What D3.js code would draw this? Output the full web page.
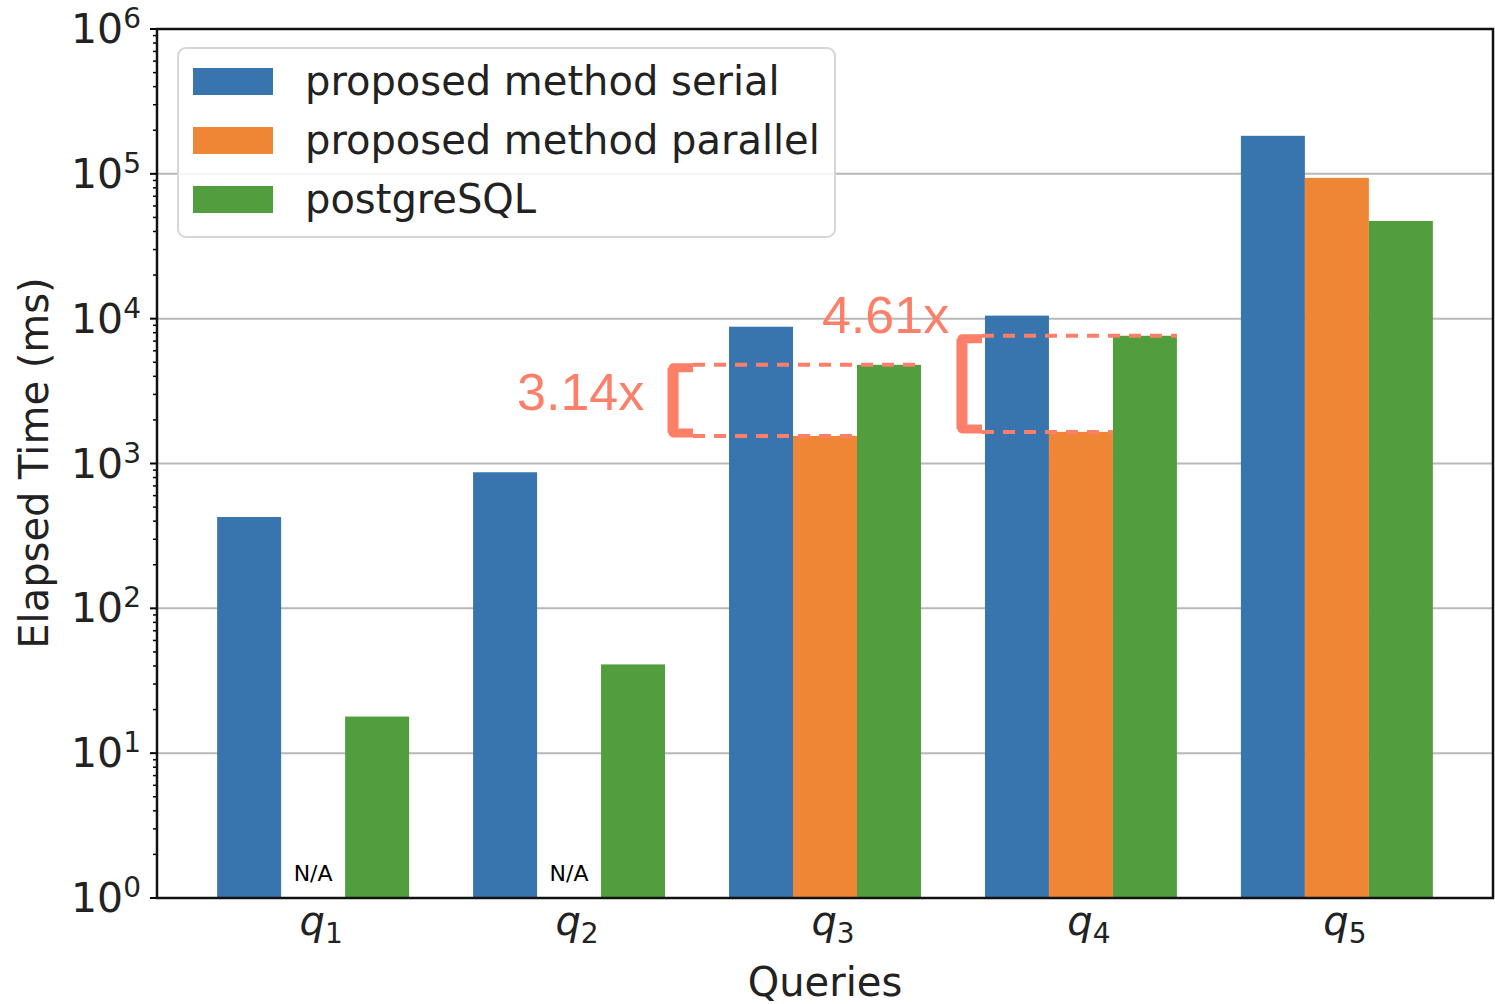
<html>
<head>
<script src="https://d3js.org/d3.v7.min.js"></script>
<style>
  body { margin: 0; background: #fff; }
  svg { display: block; font-family: "DejaVu Sans"; }
</style>
</head>
<body>
<div id="chart"></div>
<script>
// data
var queries = ["q1", "q2", "q3", "q4", "q5"];
var seriesNames = ["proposed method serial", "proposed method parallel", "postgreSQL"];
var serial   = [427, 870, 8800, 10500, 183000];
var parallel = [null, null, 1550, 1653, 93800];
var postgres = [17.9, 41, 4800, 7620, 47300];
var yTicks = [1, 10, 100, 1000, 10000, 100000, 1000000];
var speedups = [
  { q: "q3", top: 2, bottom: 1, label: "3.14x" },
  { q: "q4", top: 2, bottom: 1, label: "4.61x" }
];

var colors = ["#3875ae", "#ef8636", "#529e3e"];
var salmon = "#fc7f6a";
var values = [serial, parallel, postgres];

var width = 1495, height = 1004;
var plotL = 157, plotR = 1493, plotT = 29, plotB = 898;

var svg = d3.select("#chart").append("svg")
  .attr("width", width)
  .attr("height", height);

var x = d3.scaleBand().domain(queries).range([plotL, plotR]).paddingOuter(0.11).paddingInner(0);
var inner = d3.scaleBand().domain([0, 1, 2]).range([0, x.bandwidth() * 0.75]);
var groupLeft = function(q) { return x(q) + x.bandwidth() * 0.125; };
var y = d3.scaleLog().domain([1, 1e6]).range([plotB, plotT]);

// grid lines
svg.append("g").selectAll("line")
  .data(yTicks.slice(1, -1))
  .enter().append("line")
  .attr("x1", plotL).attr("x2", plotR)
  .attr("y1", function(d) { return y(d); })
  .attr("y2", function(d) { return y(d); })
  .attr("stroke", "#b8b8b8")
  .attr("stroke-width", 2);

// bars
values.forEach(function(vals, s) {
  svg.append("g").selectAll("rect")
    .data(queries.map(function(q, i) { return { q: q, v: vals[i] }; }).filter(function(d) { return d.v != null; }))
    .enter().append("rect")
    .attr("x", function(d) { return groupLeft(d.q) + inner(s); })
    .attr("width", inner.bandwidth())
    .attr("y", function(d) { return y(d.v); })
    .attr("height", function(d) { return plotB - y(d.v); })
    .attr("fill", colors[s]);
});

// N/A labels where there is no parallel value
svg.append("g").selectAll("text")
  .data(queries.filter(function(q, i) { return parallel[i] == null; }))
  .enter().append("text")
  .attr("x", function(q) { return groupLeft(q) + inner(1) + inner.bandwidth() / 2; })
  .attr("y", plotB - 17)
  .attr("text-anchor", "middle")
  .attr("font-size", 22)
  .text("N/A");

// speedup annotations
var speedupLayout = { q3: { bx: -56, tx: -212, ty: 410 }, q4: { bx: -23, tx: -163, ty: 333 } };
speedups.forEach(function(a) {
  var i = queries.indexOf(a.q);
  var lay = speedupLayout[a.q];
  var g0 = groupLeft(a.q);
  var bx = g0 + lay.bx;
  var capEnd = bx + 20;
  var yTop = y(values[a.top][i]), yBot = y(values[a.bottom][i]);
  var g = svg.append("g").attr("stroke", salmon).attr("fill", "none");
  g.append("line")
    .attr("x1", capEnd).attr("x2", g0 + inner(a.top) + inner.bandwidth())
    .attr("y1", yTop).attr("y2", yTop)
    .attr("stroke-width", 4).attr("stroke-dasharray", "12,9");
  g.append("line")
    .attr("x1", capEnd).attr("x2", g0 + inner(a.bottom) + inner.bandwidth())
    .attr("y1", yBot).attr("y2", yBot)
    .attr("stroke-width", 4).attr("stroke-dasharray", "12,9");
  g.append("path")
    .attr("d", "M" + capEnd + "," + (yTop + 3) + "H" + bx + "V" + (yBot - 3) + "H" + capEnd)
    .attr("stroke-width", 9).attr("stroke-linejoin", "round");
  g.append("line")
    .attr("x1", bx).attr("x2", bx)
    .attr("y1", yTop + 3).attr("y2", yBot - 3)
    .attr("stroke-width", 11);
  svg.append("text")
    .attr("x", g0 + lay.tx).attr("y", lay.ty)
    .attr("font-family", "Liberation Sans")
    .attr("font-size", 52)
    .attr("fill", salmon)
    .text(a.label);
});

// y axis ticks
var minor = [];
yTicks.slice(0, -1).forEach(function(d) {
  for (var k = 2; k <= 9; k++) minor.push(d * k);
});
svg.append("g").selectAll("line")
  .data(minor)
  .enter().append("line")
  .attr("x1", plotL - 4).attr("x2", plotL)
  .attr("y1", function(d) { return y(d); })
  .attr("y2", function(d) { return y(d); })
  .attr("stroke", "#000").attr("stroke-width", 1.5);
svg.append("g").selectAll("line")
  .data(yTicks)
  .enter().append("line")
  .attr("x1", plotL - 7).attr("x2", plotL)
  .attr("y1", function(d) { return y(d); })
  .attr("y2", function(d) { return y(d); })
  .attr("stroke", "#000").attr("stroke-width", 2);

var yLab = svg.append("g").selectAll("text")
  .data(yTicks)
  .enter().append("text")
  .attr("x", plotL - 16)
  .attr("y", function(d) { return y(d) + 14; })
  .attr("text-anchor", "end")
  .attr("font-size", 41)
  .attr("fill", "#222");
yLab.append("tspan").text("10");
yLab.append("tspan")
  .attr("dy", -15)
  .attr("font-size", 28)
  .text(function(d) { return Math.round(Math.log10(d)); });

// x tick labels
var xLab = svg.append("g").selectAll("text")
  .data(queries)
  .enter().append("text")
  .attr("x", function(q) { return x(q) + x.bandwidth() / 2 + 8; })
  .attr("y", plotB + 37)
  .attr("text-anchor", "middle")
  .attr("font-size", 40)
  .attr("fill", "#222");
xLab.append("tspan").attr("font-style", "italic").text("q");
xLab.append("tspan").attr("dy", 8).attr("font-size", 28)
  .text(function(q) { return q.slice(1); });

// frame
svg.append("rect")
  .attr("x", plotL).attr("y", plotT)
  .attr("width", plotR - plotL).attr("height", plotB - plotT)
  .attr("fill", "none").attr("stroke", "#111").attr("stroke-width", 2.5);

// axis titles
svg.append("text")
  .attr("x", (plotL + plotR) / 2).attr("y", 996)
  .attr("text-anchor", "middle").attr("font-size", 40).attr("fill", "#222")
  .text("Queries");
svg.append("text")
  .attr("transform", "translate(48,463) rotate(-90)")
  .attr("text-anchor", "middle").attr("font-size", 40).attr("fill", "#222")
  .text("Elapsed Time (ms)");

// legend
var legend = svg.append("g");
legend.append("rect")
  .attr("x", 178).attr("y", 48).attr("width", 657).attr("height", 189)
  .attr("rx", 8)
  .attr("fill", "#fff").attr("fill-opacity", 0.85)
  .attr("stroke", "#d6d6d6").attr("stroke-width", 2);
seriesNames.forEach(function(name, s) {
  legend.append("rect")
    .attr("x", 193).attr("y", 68 + s * 59)
    .attr("width", 80).attr("height", 27)
    .attr("fill", colors[s]);
  legend.append("text")
    .attr("x", 305).attr("y", 95 + s * 59)
    .attr("font-size", 40).attr("fill", "#222")
    .text(name);
});
</script>
</body>
</html>
